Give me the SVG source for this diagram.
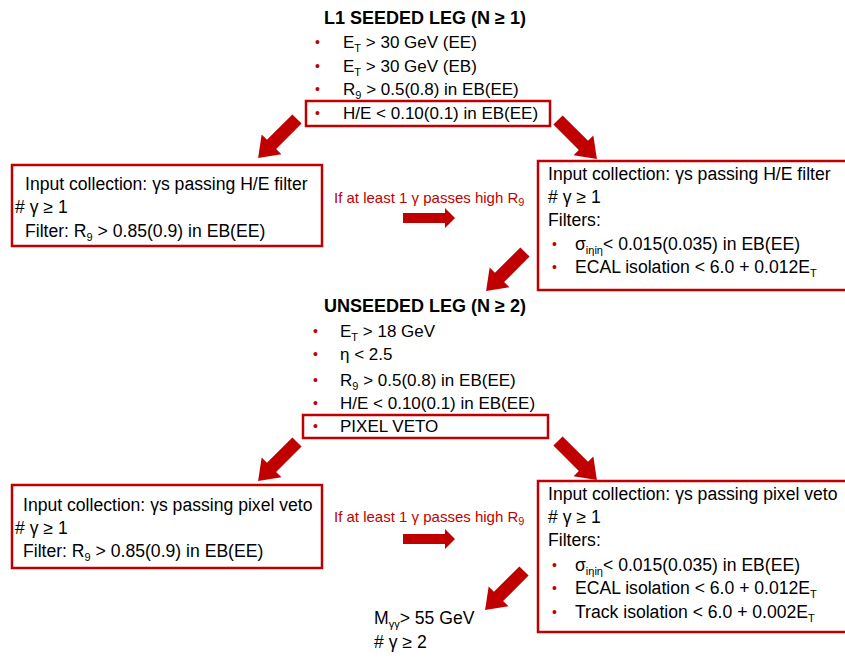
<svg xmlns="http://www.w3.org/2000/svg" width="845" height="659" viewBox="0 0 845 659">
<defs>
<style>
text{font-family:"Liberation Sans",Arial,sans-serif;fill:#000;}
.t{font-size:18px;font-weight:bold;text-anchor:middle;}
.b{font-size:17px;}
.s{font-size:17.6px;}
.bul{fill:#c00000;font-size:14px;}
.red{fill:#c00000;font-size:15px;}
.sub{font-size:11px;}
.box{fill:none;stroke:#c00000;stroke-width:2.5;}
.ar{fill:#c00000;}
</style>
<path id="dar" d="M0,-6.5 L36,-6.5 L36,-14 L55,0 L36,14 L36,6.5 L0,6.5 Z"/>
<path id="har" d="M0,-5 L42,-5 L42,-10 L52,0 L42,10 L42,5 L0,5 Z"/>
</defs>

<g id="seeded">
<text class="t" x="425" y="24">L1 SEEDED LEG (N ≥ 1)</text>
<text class="bul" x="315" y="47">•</text><text class="b" x="343" y="48">E<tspan class="sub" dy="4">T</tspan><tspan dy="-4"> &gt; 30 GeV (EE)</tspan></text>
<text class="bul" x="315" y="71">•</text><text class="b" x="343" y="72">E<tspan class="sub" dy="4">T</tspan><tspan dy="-4"> &gt; 30 GeV (EB)</tspan></text>
<text class="bul" x="315" y="94">•</text><text class="b" x="343" y="95">R<tspan class="sub" dy="4">9</tspan><tspan dy="-4"> &gt; 0.5(0.8) in EB(EE)</tspan></text>
<rect class="box" x="306" y="101" width="244" height="25"/>
<text class="bul" x="315" y="118">•</text><text class="b" x="343" y="119">H/E &lt; 0.10(0.1) in EB(EE)</text>
</g>

<g id="left1">
<rect class="box" x="12" y="165" width="310" height="81"/>
<text class="s" x="25" y="190">Input collection: γs passing H/E filter</text>
<text class="s" x="15" y="213"># γ ≥ 1</text>
<text class="s" x="25" y="237">Filter: R<tspan class="sub" dy="4">9</tspan><tspan dy="-4"> &gt; 0.85(0.9) in EB(EE)</tspan></text>
</g>

<g id="mid1">
<text class="red" x="334" y="203">If at least 1 γ passes high R<tspan class="sub" dy="3">9</tspan></text>
</g>

<g id="right1">
<rect class="box" x="538" y="161" width="310" height="129"/>
<text class="s" x="548" y="180">Input collection: γs passing H/E filter</text>
<text class="s" x="548" y="203"># γ ≥ 1</text>
<text class="s" x="548" y="226">Filters:</text>
<text class="bul" x="552" y="249">•</text><text class="s" x="575" y="250">σ<tspan class="sub" dy="4">iηiη</tspan><tspan dy="-4">&lt; 0.015(0.035) in EB(EE)</tspan></text>
<text class="bul" x="552" y="272">•</text><text class="s" x="575" y="273">ECAL isolation &lt; 6.0 + 0.012E<tspan class="sub" dy="4">T</tspan></text>
</g>

<g id="unseeded">
<text class="t" x="425" y="312">UNSEEDED LEG (N ≥ 2)</text>
<text class="bul" x="313" y="336">•</text><text class="b" x="340" y="337">E<tspan class="sub" dy="4">T</tspan><tspan dy="-4"> &gt; 18 GeV</tspan></text>
<text class="bul" x="313" y="359">•</text><text class="b" x="340" y="360">η &lt; 2.5</text>
<text class="bul" x="313" y="385">•</text><text class="b" x="340" y="386">R<tspan class="sub" dy="4">9</tspan><tspan dy="-4"> &gt; 0.5(0.8) in EB(EE)</tspan></text>
<text class="bul" x="313" y="408">•</text><text class="b" x="340" y="409">H/E &lt; 0.10(0.1) in EB(EE)</text>
<rect class="box" x="303" y="415" width="245" height="23"/>
<text class="bul" x="313" y="431">•</text><text class="b" x="340" y="432">PIXEL VETO</text>
</g>

<g id="left2">
<rect class="box" x="12" y="485" width="310" height="83"/>
<text class="s" x="23" y="511">Input collection: γs passing pixel veto</text>
<text class="s" x="15" y="534"># γ ≥ 1</text>
<text class="s" x="23" y="557">Filter: R<tspan class="sub" dy="4">9</tspan><tspan dy="-4"> &gt; 0.85(0.9) in EB(EE)</tspan></text>
</g>

<g id="mid2">
<text class="red" x="334" y="522">If at least 1 γ passes high R<tspan class="sub" dy="3">9</tspan></text>
</g>

<g id="right2">
<rect class="box" x="538" y="481" width="310" height="151"/>
<text class="s" x="548" y="500">Input collection: γs passing pixel veto</text>
<text class="s" x="548" y="523"># γ ≥ 1</text>
<text class="s" x="548" y="546">Filters:</text>
<text class="bul" x="552" y="570">•</text><text class="s" x="575" y="571">σ<tspan class="sub" dy="4">iηiη</tspan><tspan dy="-4">&lt; 0.015(0.035) in EB(EE)</tspan></text>
<text class="bul" x="552" y="593">•</text><text class="s" x="575" y="594">ECAL isolation &lt; 6.0 + 0.012E<tspan class="sub" dy="4">T</tspan></text>
<text class="bul" x="552" y="617">•</text><text class="s" x="575" y="618">Track isolation &lt; 6.0 + 0.002E<tspan class="sub" dy="4">T</tspan></text>
</g>

<g id="final">
<text class="s" x="374" y="624">M<tspan class="sub" dy="4">γγ</tspan><tspan dy="-4">&gt; 55 GeV</tspan></text>
<text class="s" x="374" y="648"># γ ≥ 2</text>
</g>

<g id="connectors" class="ar">
<use href="#dar" transform="translate(297,119) rotate(135)"/>
<use href="#dar" transform="translate(558,120) rotate(45)"/>
<use href="#dar" transform="translate(525,252) rotate(135)"/>
<use href="#dar" transform="translate(297,442) rotate(135)"/>
<use href="#dar" transform="translate(558,441) rotate(45)"/>
<use href="#dar" transform="translate(524,571) rotate(135)"/>
<use href="#har" transform="translate(403,218)"/>
<use href="#har" transform="translate(403,539)"/>
</g>
</svg>
